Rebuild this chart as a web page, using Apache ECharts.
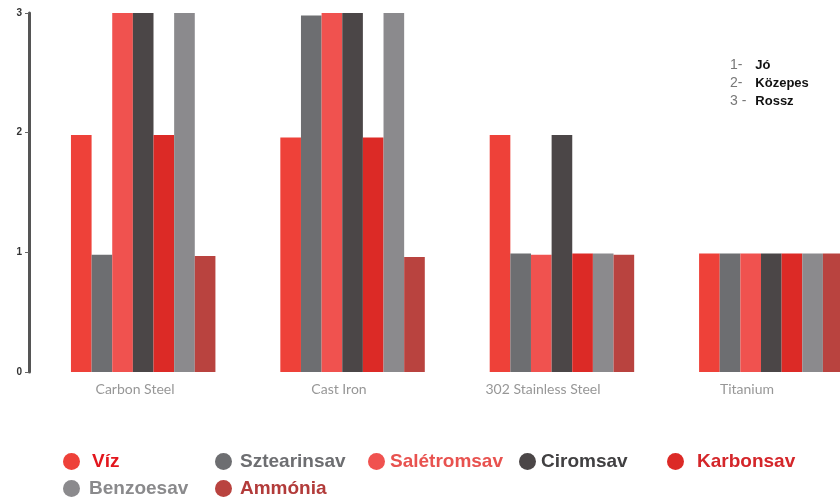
<!DOCTYPE html>
<html>
<head>
<meta charset="utf-8">
<script src="https://cdn.jsdelivr.net/npm/echarts@6/dist/echarts.min.js"></script>
<style>
html,body{margin:0;padding:0;background:#fff;}
#chart{width:840px;height:497px;}
</style>
</head>
<body>
<div id="chart"></div>
<script>
const categories = ['Carbon Steel', 'Cast Iron', '302 Stainless Steel', 'Titanium'];
const seriesNames = ['Víz', 'Sztearinsav', 'Salétromsav', 'Ciromsav', 'Karbonsav', 'Benzoesav', 'Ammónia'];
const viz = [1.98, 1.96, 1.98, 0.99];
const sztearinsav = [0.98, 2.98, 0.99, 0.99];
const saletromsav = [3, 3, 0.98, 0.99];
const ciromsav = [3, 3, 1.98, 0.99];
const karbonsav = [1.98, 1.96, 0.99, 0.99];
const benzoesav = [3, 3, 0.99, 0.99];
const ammonia = [0.97, 0.96, 0.98, 0.99];
const yTicks = [0, 1, 2, 3];
const notes = [['1-', 'Jó'], ['2-', 'Közepes'], ['3 -', 'Rossz']];

const seriesValues = [viz, sztearinsav, saletromsav, ciromsav, karbonsav, benzoesav, ammonia];
const barColors = ['#ee4139', '#6d6e71', '#f0524f', '#4b4647', '#dc2a26', '#8b8a8d', '#b9433f'];
const textColors = ['#e3161d', '#6d6e71', '#e8524f', '#414042', '#d4262a', '#8a8a8c', '#b23b3a'];
const legendPos = [
  {left: 63, top: 452, pad: 7},
  {left: 215, top: 452, pad: 3},
  {left: 368, top: 452, pad: 0},
  {left: 519, top: 452, pad: 0},
  {left: 667, top: 452, pad: 8},
  {left: 63, top: 479, pad: 4},
  {left: 215, top: 479, pad: 3}
];

const chart = echarts.init(document.getElementById('chart'), null, {renderer: 'canvas'});

const legends = seriesNames.map((n, i) => ({
  data: [n],
  left: legendPos[i].left,
  top: legendPos[i].top,
  padding: 0,
  icon: 'circle',
  itemWidth: 17,
  itemHeight: 17,
  selectedMode: false,
  textStyle: {
    color: textColors[i],
    fontFamily: 'Liberation Sans',
    fontWeight: 'bold',
    fontSize: 19,
    padding: [0, 0, 0, legendPos[i].pad]
  }
}));

const option = {
  animation: false,
  backgroundColor: '#fff',
  legend: legends,
  grid: [
    {left: 38.5, right: -36, top: 13, bottom: 125, containLabel: false, outerBoundsMode: 'none'},
    {left: 33, right: -9, top: 13, bottom: 125, containLabel: false, outerBoundsMode: 'none'}
  ],
  xAxis: [
    {
      type: 'category', gridIndex: 0, data: categories,
      axisLine: {show: false}, axisTick: {show: false}, axisLabel: {show: false}
    },
    {
      type: 'category', gridIndex: 1, data: categories,
      axisLine: {show: false}, axisTick: {show: false},
      axisLabel: {show: true, color: '#979797', fontFamily: 'Lato', fontSize: 14, margin: 10}
    }
  ],
  yAxis: [
    {
      type: 'value', gridIndex: 0, min: yTicks[0], max: yTicks[yTicks.length - 1], interval: 1,
      offset: 9.5,
      axisLine: {show: true, lineStyle: {color: '#555', width: 3}},
      axisTick: {show: true, length: 4, lineStyle: {color: '#666', width: 1}},
      axisLabel: {color: '#333', fontSize: 10, fontWeight: 'bold', fontFamily: 'Liberation Sans', margin: 7},
      splitLine: {show: false}
    },
    {type: 'value', gridIndex: 1, min: 0, max: 3, show: false}
  ],
  graphic: notes.map((r, i) => ({
    type: 'text',
    left: 730,
    top: 58 + i * 18,
    style: {
      text: '{a|' + r[0] + '} {b|' + r[1] + '}',
      rich: {
        a: {fill: '#777', fontSize: 14, fontFamily: 'Liberation Sans', width: 22},
        b: {fill: '#111', fontSize: 13, fontWeight: 'bold', fontFamily: 'Liberation Sans'}
      }
    }
  })),
  series: seriesNames.map((n, i) => ({
    name: n,
    type: 'bar',
    xAxisIndex: 0,
    yAxisIndex: 0,
    data: seriesValues[i],
    barGap: '0%',
    barCategoryGap: '31%',
    itemStyle: {color: barColors[i]}
  }))
};
chart.setOption(option);
</script>
</body>
</html>
